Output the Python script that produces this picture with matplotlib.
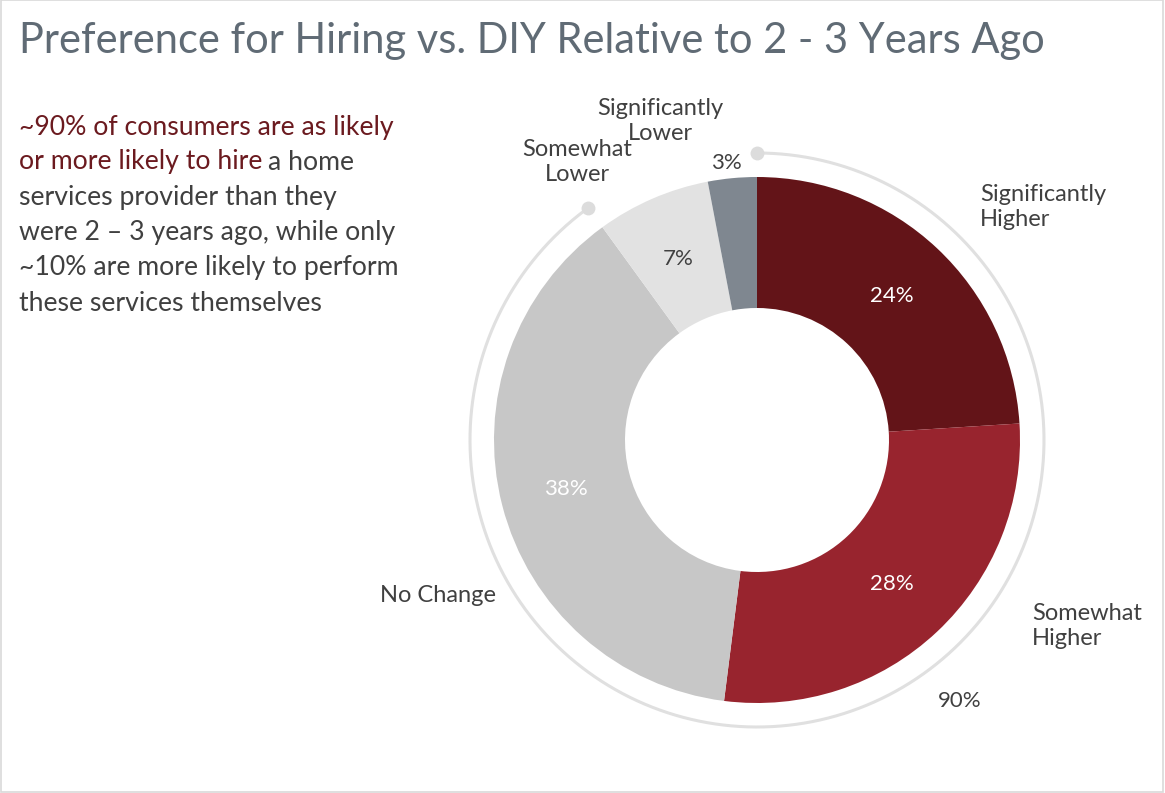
import numpy as np
import matplotlib.pyplot as plt
from matplotlib.patches import Rectangle

plt.rcParams['font.family'] = ['Lato', 'DejaVu Sans']

categories = ['Significantly\nHigher', 'Somewhat\nHigher', 'No Change',
              'Somewhat\nLower', 'Significantly\nLower']
shares = [24, 28, 38, 7, 3]
colors = ['#631418', '#98242e', '#c7c7c7', '#e2e2e2', '#7f8790']
pct_colors = ['white', 'white', 'white', '#404040', '#404040']
hire_share = sum(shares[:3])  # as likely or more likely to hire

W, H = 1165, 793
fig = plt.figure(figsize=(W / 100, H / 100), dpi=100)
ax = fig.add_axes([0, 0, 1, 1])
ax.set_xlim(0, W)
ax.set_ylim(0, H)
ax.set_aspect('equal')
ax.axis('off')

# slide frame
ax.add_patch(Rectangle((0.5, 1.5), W - 3, H - 1, fill=False, ec='#d9d9d9', lw=1.2))

cx, cy, R = 757, H - 440, 263
wedges, _, autotexts = ax.pie(
    shares, colors=colors, startangle=90, counterclock=False,
    center=(cx, cy), radius=R, autopct='%d%%', pctdistance=0.75,
    wedgeprops=dict(width=131, linewidth=0),
    textprops=dict(fontsize=16, color='white'))
ax.set_xlim(0, W)
ax.set_ylim(0, H)
for t, c in zip(autotexts, pct_colors):
    t.set_color(c)

# small slice gets its value outside the ring
mid = np.deg2rad(90 - 360 * (sum(shares[:4]) + shares[4] / 2) / 100)
autotexts[4].set_position((cx + 285 * np.cos(mid) - 4, cy + 285 * np.sin(mid) - 7))

# thin arc around the "hire" share
Ra = 287
end = 90 - 360 * hire_share / 100
th = np.deg2rad(np.linspace(90, end, 400))
ax.plot(cx + Ra * np.cos(th), cy + Ra * np.sin(th), color='#e0e0e0', lw=2.2,
        solid_capstyle='round', zorder=1)
for a in (90, end):
    ax.plot(cx + Ra * np.cos(np.deg2rad(a)), cy + Ra * np.sin(np.deg2rad(a)), 'o',
            color='#dcdcdc', ms=10, mec='none', zorder=2)
ax.text(960, H - 701, f'{hire_share}%', fontsize=16, color='#404040',
        ha='center', va='center')

# category labels
lab = dict(fontsize=17, color='#404040', linespacing=1.25)
ax.text(980, H - 207, categories[0], ha='left', va='center', **lab)
ax.text(1032, H - 626, categories[1], ha='left', va='center', **lab)
ax.text(496, H - 595, categories[2], ha='right', va='center', **lab)
ax.text(577, H - 162, categories[3], ha='center', va='center', **lab)
ax.text(660, H - 121, categories[4], ha='center', va='center', **lab)

# title
ax.text(19, H - 41, 'Preference for Hiring vs. DIY Relative to 2 - 3 Years Ago',
        fontsize=30, color='#606b75', ha='left', va='center')

# commentary
red, grey = '#6b1a1f', '#404040'
body = dict(fontsize=19.2, ha='left', va='center')
ax.text(19, H - 127, '~90% of consumers are as likely', color=red, **body)
t = ax.text(19, H - 162, 'or more likely to hire', color=red, **body)
fig.canvas.draw()
bb = t.get_window_extent()
ax.text(bb.x1 + 6, H - 162, 'a home', color=grey, **body)
lines = ['services provider than they',
         'were 2 \u2013 3 years ago, while only',
         '~10% are more likely to perform',
         'these services themselves']
for i, s in enumerate(lines):
    ax.text(19, H - 197 - 35.5 * i, s, color=grey, **body)

fig.savefig('out.png', dpi=100)
